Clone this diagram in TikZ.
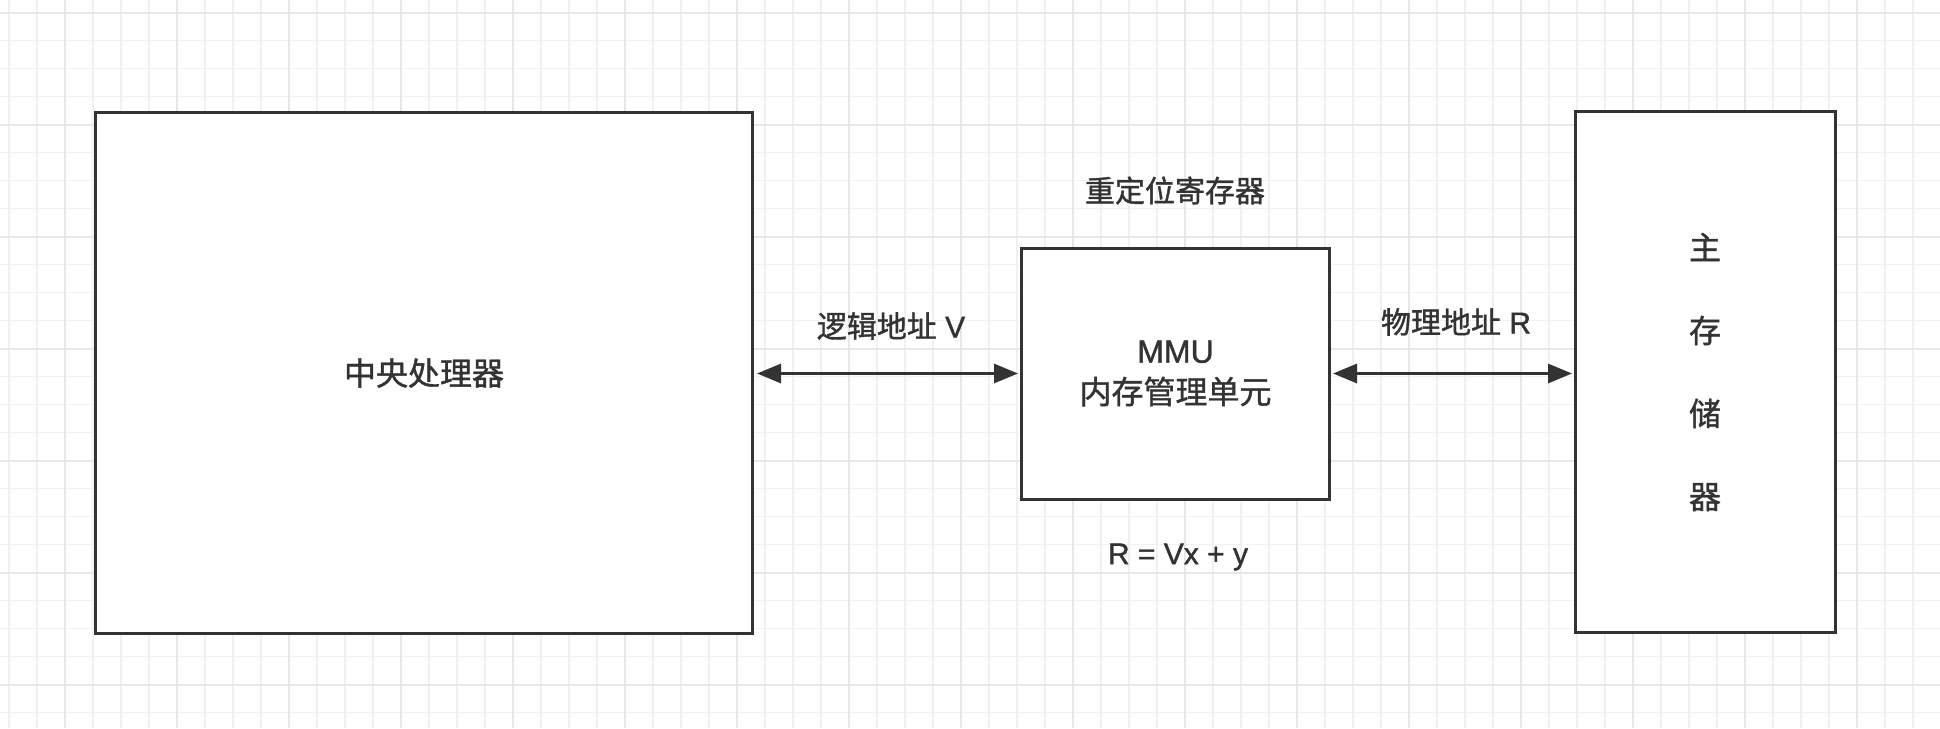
\documentclass[tikz,border=0pt]{standalone}
\usepackage{fontspec}
\setmainfont{Liberation Sans}[FakeBold=1.2]
\newfontfamily\cjk{Noto Sans CJK SC}[FakeBold=1.2]
\usetikzlibrary{arrows.meta}
\definecolor{ink}{HTML}{333333}
\definecolor{gridminor}{HTML}{F1F1F1}
\definecolor{gridmajor}{HTML}{E7E7E7}
\begin{document}
\begin{tikzpicture}[x=1pt,y=-1pt,
  box/.style={draw=ink, line width=3pt, fill=white, inner sep=0pt, outer sep=0pt, text=ink},
  conn/.style={draw=ink, line width=3pt, {Triangle[length=24pt,width=19pt]}-{Triangle[length=24pt,width=19pt]}},
  lbl/.style={text=ink, inner sep=0pt, font=\fontsize{30}{36}\selectfont},
  minorline/.style={draw=gridminor, line width=1.6pt},
  majorline/.style={draw=gridmajor, line width=2pt}]
\fill[white] (0,0) rectangle (1940,728);
\useasboundingbox (0,0) rectangle (1940,728);
% grid
\foreach \x in {9,37,...,1940} \draw[minorline] (\x,0) -- (\x,728);
\foreach \y in {12.5,40.5,...,728} \draw[minorline] (0,\y) -- (1940,\y);
\foreach \x in {65,177,...,1940} \draw[majorline] (\x,0) -- (\x,728);
\foreach \y in {12.5,124.5,...,728} \draw[majorline] (0,\y) -- (1940,\y);
% boxes
\node[box, minimum width=657pt, minimum height=521pt, font=\cjk\fontsize{32}{38}\selectfont] (cpu) at (424,373) {中央处理器};
\node[box, minimum width=308pt, minimum height=251pt, align=center, font=\fontsize{32}{41}\selectfont] (mmu) at (1175.5,373.5) {MMU\\{\cjk 内存管理单元}};
\node[box, minimum width=260pt, minimum height=521pt, align=center, font=\cjk\fontsize{32}{83}\selectfont] (mem) at (1705,372) {主\\存\\储\\器};
% labels
\node[lbl] (lv) at (891,326) {{\cjk 逻辑地址} V};
\node[lbl] (pr) at (1456,322) {{\cjk 物理地址} R};
\node[lbl] (reg) at (1175,190.5) {{\cjk 重定位寄存器}};
\node[lbl] (eq) at (1178,557) {R = Vx + y};
% connectors
\draw[conn, shorten <=4.5pt, shorten >=3.5pt] (cpu.east |- mmu.west) -- (mmu.west);
\draw[conn, shorten <=3.5pt, shorten >=3pt] (mmu.east) -- (mmu.east -| mem.west);
\end{tikzpicture}
\end{document}
